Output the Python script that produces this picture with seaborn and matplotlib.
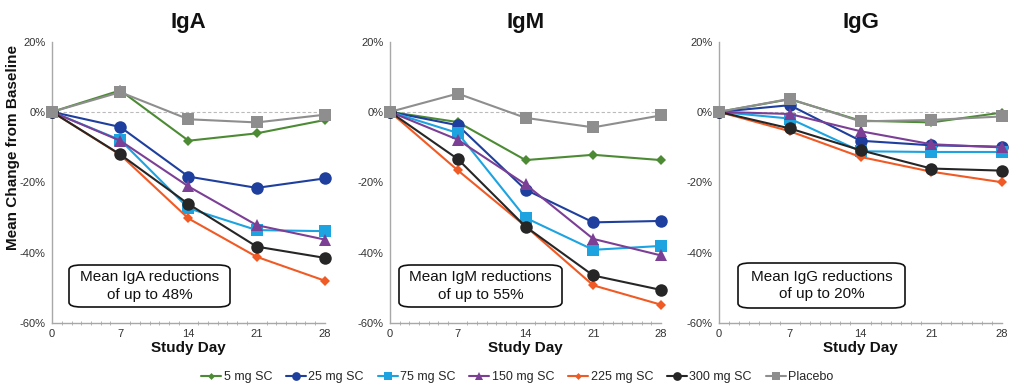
import numpy as np
import pandas as pd
import matplotlib
matplotlib.use("Agg")
import matplotlib.pyplot as plt
import seaborn as sns
from matplotlib.patches import FancyBboxPatch
from matplotlib.ticker import FuncFormatter, MultipleLocator

sns.set_theme(style="white")
plt.rcParams['font.family'] = ['Liberation Sans', 'DejaVu Sans']

days = [0, 7, 14, 21, 28]
series_names = ["5 mg SC", "25 mg SC", "75 mg SC", "150 mg SC", "225 mg SC", "300 mg SC", "Placebo"]

iga = {
    "5 mg SC":   [0, 6.1, -8.2, -6.1, -2.3],
    "25 mg SC":  [0, -4.3, -18.4, -21.6, -18.9],
    "75 mg SC":  [0, -8.0, -27.4, -33.6, -33.9],
    "150 mg SC": [0, -8.2, -21.2, -32.2, -36.3],
    "225 mg SC": [0, -12.2, -30.3, -41.2, -48.0],
    "300 mg SC": [0, -12.1, -26.2, -38.3, -41.5],
    "Placebo":   [0, 5.6, -2.1, -3.0, -0.8],
}
igm = {
    "5 mg SC":   [0, -2.9, -13.7, -12.2, -13.7],
    "25 mg SC":  [0, -3.8, -22.1, -31.4, -31.0],
    "75 mg SC":  [0, -6.0, -30.1, -39.2, -38.1],
    "150 mg SC": [0, -7.9, -20.6, -36.1, -40.8],
    "225 mg SC": [0, -16.6, -32.5, -49.3, -54.8],
    "300 mg SC": [0, -13.4, -32.6, -46.5, -50.6],
    "Placebo":   [0, 5.2, -1.7, -4.4, -1.0],
}
igg = {
    "5 mg SC":   [0, 3.6, -2.5, -3.0, -0.2],
    "25 mg SC":  [0, 1.9, -8.2, -9.5, -9.9],
    "75 mg SC":  [0, -1.9, -11.2, -11.4, -11.4],
    "150 mg SC": [0, -0.6, -5.5, -9.2, -10.1],
    "225 mg SC": [0, -5.5, -12.8, -17.0, -20.0],
    "300 mg SC": [0, -4.7, -10.9, -16.1, -16.7],
    "Placebo":   [0, 3.7, -2.7, -2.3, -1.3],
}
titles = ["IgA", "IgM", "IgG"]
box_texts = ["Mean IgA reductions\nof up to 48%", "Mean IgM reductions\nof up to 55%", "Mean IgG reductions\nof up to 20%"]
yticks = [20, 0, -20, -40, -60]
xticks = [0, 7, 14, 21, 28]

colors = {
    "5 mg SC": "#4C8B34", "25 mg SC": "#1E3F9E", "75 mg SC": "#1CA3E0",
    "150 mg SC": "#7C3F96", "225 mg SC": "#F05A24", "300 mg SC": "#262626",
    "Placebo": "#8E8E8E",
}
markers = {"5 mg SC": "D", "25 mg SC": "o", "75 mg SC": "s", "150 mg SC": "^",
           "225 mg SC": "D", "300 mg SC": "o", "Placebo": "s"}
msizes = {"5 mg SC": 5, "25 mg SC": 9, "75 mg SC": 8, "150 mg SC": 8,
          "225 mg SC": 5, "300 mg SC": 9, "Placebo": 8.5}

fig = plt.figure(figsize=(10.14, 3.9), dpi=100)
positions = [
    [52/1014, 1-323/390, 273/1014, 281.5/390],
    [390/1014, 1-323/390, 271/1014, 281.5/390],
    [719/1014, 1-323/390, 283/1014, 281.5/390],
]
datasets = [iga, igm, igg]
box_pos = [(69, 265, 161, 42), (399, 265, 163, 42), (738, 263, 167, 45)]

for i, (pos, data) in enumerate(zip(positions, datasets)):
    ax = fig.add_axes(pos)
    ax.axhline(0, color="#BBBBBB", lw=0.8, ls=(0, (3, 2)), zorder=1)
    for name in series_names:
        df = pd.DataFrame({"day": days, "val": data[name]})
        sns.lineplot(data=df, x="day", y="val", ax=ax, color=colors[name],
                     marker=markers[name], markersize=msizes[name],
                     markeredgewidth=0, lw=1.5, label=name, legend=False, zorder=3)
    ax.set_xlim(0, 28)
    ax.set_ylim(-60, 20)
    ax.set_xticks(xticks)
    ax.set_yticks(yticks)
    ax.xaxis.set_minor_locator(MultipleLocator(1))
    ax.yaxis.set_major_formatter(FuncFormatter(lambda v, p: f"{int(v)}%"))
    for s in ["top", "right"]:
        ax.spines[s].set_visible(False)
    for s in ["left", "bottom"]:
        ax.spines[s].set_color("#A8A8A8")
        ax.spines[s].set_linewidth(1.0)
    ax.tick_params(axis="both", which="major", labelsize=8, colors="#A8A8A8",
                   labelcolor="#333333", length=3.5, width=0.8, direction="out", pad=1)
    ax.tick_params(axis="x", which="minor", length=3, width=0.6, colors="#A8A8A8",
                   direction="inout", bottom=True)
    ax.set_xlabel("Study Day", fontsize=11, fontweight="bold", color="#111111", labelpad=1)
    ax.set_ylabel("")
    ax.set_title(titles[i], fontsize=16, fontweight="bold", pad=10, color="#111111")
    for l in ax.lines:
        l.set_clip_on(False)
    bx, by, bw, bh = box_pos[i]
    x0 = bx / 1014
    y0 = 1 - (by + bh) / 390
    patch = FancyBboxPatch((x0, y0), bw/1014, bh/390, boxstyle="round,pad=0,rounding_size=0.012",
                           transform=fig.transFigure, facecolor="white", edgecolor="#111111",
                           lw=1.2, zorder=10)
    fig.patches.append(patch)
    fig.text(x0 + bw/2/1014, y0 + bh/2/390, box_texts[i], ha="center", va="center",
             fontsize=11, color="#111111", linespacing=1.3, zorder=11)
    if i == 0:
        handles, labels = ax.get_legend_handles_labels()

fig.text(13/1014, 1 - 148/390, "Mean Change from Baseline", rotation=90, ha="center", va="center",
         fontsize=11, fontweight="bold", color="#111111")

fig.legend(handles, labels, loc="center", bbox_to_anchor=(0.51, 1-377/390), ncol=7,
           frameon=False, fontsize=9, handlelength=1.6, handletextpad=0.2,
           columnspacing=1.1, markerscale=0.7)
fig.savefig("out.png", dpi=100)
